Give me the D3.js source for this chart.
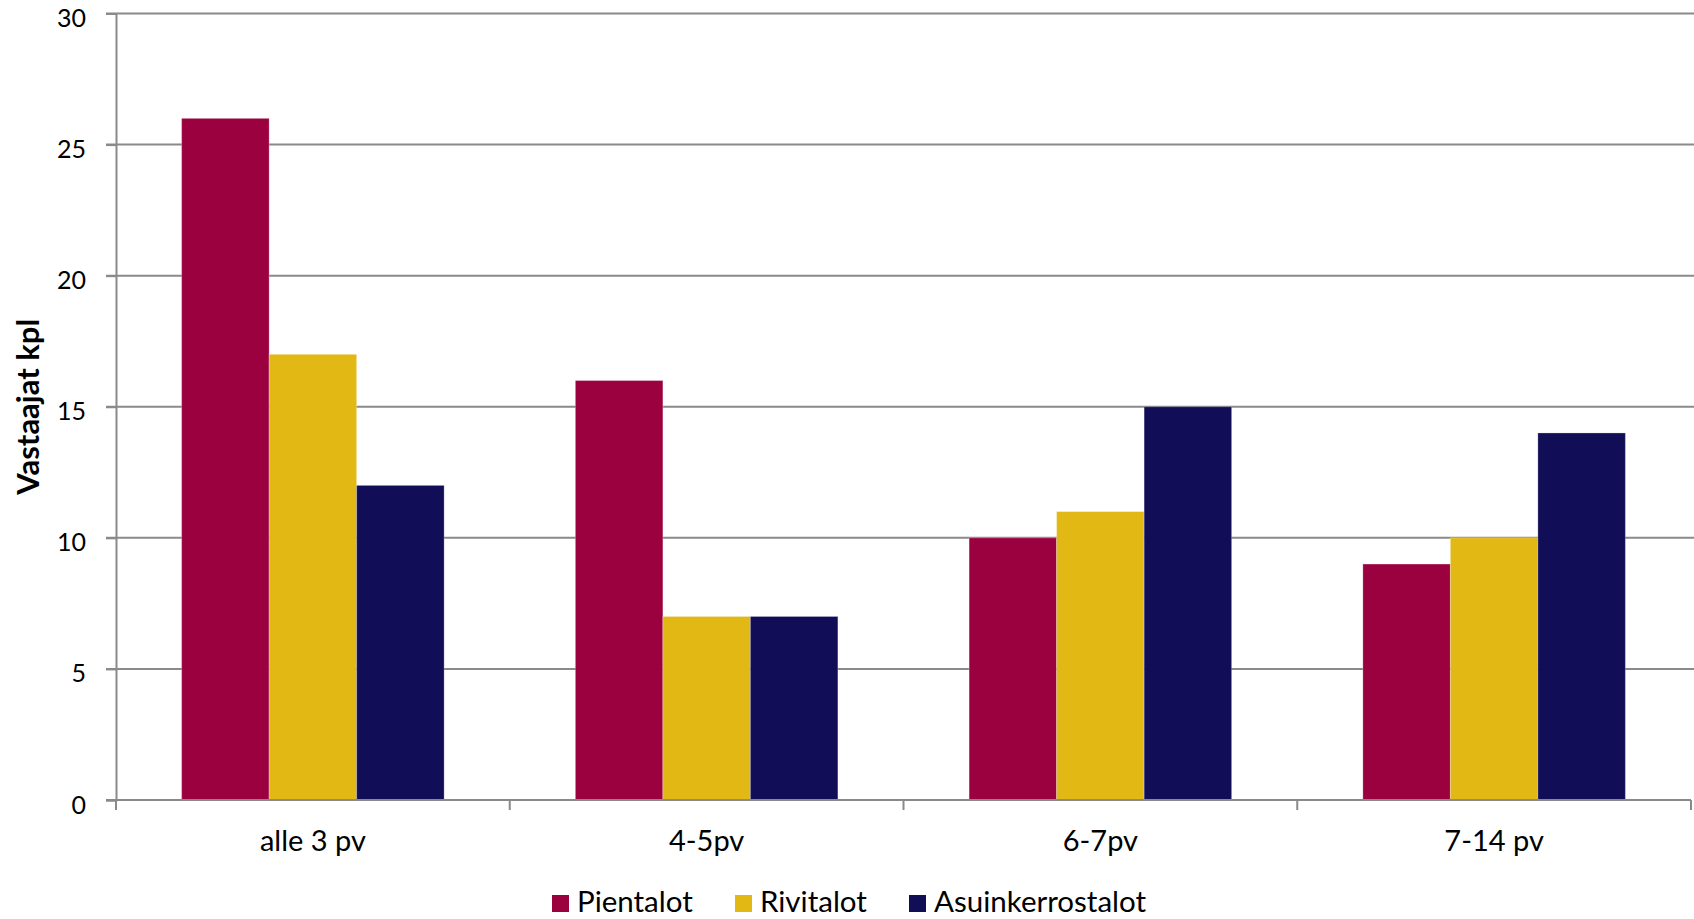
<!DOCTYPE html>
<html>
<head>
<meta charset="utf-8">
<script src="https://cdn.jsdelivr.net/npm/d3@7"></script>
<style>
  html, body { margin: 0; padding: 0; background: #fff; }
  svg { display: block; }
  text { font-family: Lato, "Open Sans", sans-serif; fill: #000; }
</style>
</head>
<body>
<svg id="chart" width="1694" height="919"></svg>
<script>
const categories = ["alle 3 pv", "4-5pv", "6-7pv", "7-14 pv"];
const seriesNames = ["Pientalot", "Rivitalot", "Asuinkerrostalot"];
const pientalot = [26, 16, 10, 9];
const rivitalot = [17, 7, 11, 10];
const asuinkerrostalot = [12, 7, 15, 14];
const yTicks = [0, 5, 10, 15, 20, 25, 30];
const colors = ["#9B003F", "#E2B814", "#110E57"];
const yTitle = "Vastaajat kpl";

const series = [pientalot, rivitalot, asuinkerrostalot];

(function () {
const svg = d3.select("#chart");
const pLeft = 116, pRight = 1691, pTop = 13.5, pBottom = 800;

const x0 = d3.scaleBand().domain(categories).range([pLeft, pRight]).paddingInner(0).paddingOuter(0);
const x1 = d3.scaleBand().domain(seriesNames).range([0, x0.bandwidth()]).paddingInner(0).paddingOuter(0.75);
const y = d3.scaleLinear().domain([0, 30]).range([pBottom, pTop]);

// gridlines
svg.append("g").selectAll("line").data(yTicks.filter(d => d > 0)).join("line")
  .attr("x1", pLeft - 10).attr("x2", 1694)
  .attr("y1", d => y(d)).attr("y2", d => y(d))
  .attr("stroke", "#8a8a8a").attr("stroke-width", 2);

// bars
const g = svg.append("g");
categories.forEach((c, i) => {
  seriesNames.forEach((s, j) => {
    const v = series[j][i];
    g.append("rect")
      .attr("x", x0(c) + x1(s))
      .attr("y", y(v))
      .attr("width", x1.bandwidth())
      .attr("height", y(0) - y(v))
      .attr("fill", colors[j])
      .attr("stroke", "rgba(255,255,255,0.25)")
      .attr("stroke-width", 1);
  });
});

// y axis
const yAxis = d3.axisLeft(y).tickValues(yTicks).tickSize(10).tickPadding(20).tickFormat(d3.format("d"));
const ya = svg.append("g").attr("transform", `translate(${pLeft},0)`).call(yAxis);
ya.select(".domain").attr("stroke", "#8a8a8a").attr("stroke-width", 2);
ya.selectAll(".tick line").attr("stroke", "#8a8a8a").attr("stroke-width", 2);
ya.selectAll(".tick text").attr("font-size", 25).attr("font-family", "Lato, sans-serif").attr("fill", "#000")
  .attr("y", 5);

// x axis
const xAxis = d3.axisBottom(x0).tickSize(0).tickPadding(30);
const xa = svg.append("g").attr("transform", `translate(0,${pBottom})`).call(xAxis);
xa.select(".domain").remove();
xa.append("line").attr("x1", pLeft - 10).attr("x2", pRight).attr("y1", 0).attr("y2", 0)
  .attr("stroke", "#8a8a8a").attr("stroke-width", 2);
const bounds = categories.map(c => x0(c)).concat([pRight]);
xa.selectAll(".bnd").data(bounds).join("line").attr("class", "bnd")
  .attr("x1", d => d).attr("x2", d => d).attr("y1", 0).attr("y2", 10)
  .attr("stroke", "#8a8a8a").attr("stroke-width", 2);
xa.selectAll(".tick text").attr("font-size", 29).attr("font-family", "Lato, sans-serif").attr("fill", "#000");

// y title
svg.append("text")
  .attr("transform", `translate(39,${(pTop + pBottom) / 2}) rotate(-90)`)
  .attr("text-anchor", "middle")
  .attr("font-size", 31).attr("font-weight", "bold")
  .text(yTitle);

// legend
const legendX = [552, 735, 909];
const lg = svg.append("g");
seriesNames.forEach((s, j) => {
  lg.append("rect").attr("x", legendX[j]).attr("y", 895).attr("width", 17).attr("height", 17).attr("fill", colors[j]);
  lg.append("text").attr("x", legendX[j] + 25).attr("y", 912).attr("font-size", 29.5).text(s);
});
})();
</script>
</body>
</html>
